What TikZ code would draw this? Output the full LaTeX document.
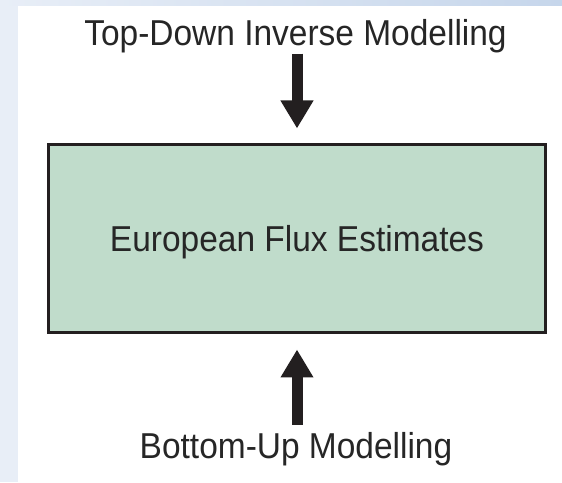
\documentclass[tikz,border=0pt]{standalone}
\usepackage{fontspec}
\setmainfont{Liberation Sans}[FakeStretch=0.93]
\usetikzlibrary{arrows.meta}
\definecolor{boxfill}{HTML}{C0DCCB}
\definecolor{boxline}{HTML}{231F20}
\definecolor{txt}{HTML}{262626}
\definecolor{stripL}{HTML}{E8EEF7}
\definecolor{stripR}{HTML}{C6D6EB}
\tikzset{
  x=1pt, y=1pt,
  label/.style={inner sep=0pt, text=txt, font=\fontsize{36}{40}\selectfont},
  fluxbox/.style={draw=boxline, line width=3pt, fill=boxfill, minimum width=497pt, minimum height=188pt, inner sep=0pt, text=txt, font=\fontsize{36}{40}\selectfont, text depth=0pt},
  bigarrow/.style={draw=boxline, line width=11pt, -{Triangle[length=28pt,width=31pt]}}
}
\begin{document}
\begin{tikzpicture}
\useasboundingbox (0,0) rectangle (562,482);
\fill[white] (0,0) rectangle (562,482);
\shade[left color=stripL, right color=stripR] (0,476) rectangle (562,482);
\fill[stripL] (0,0) rectangle (18,476);
\node[fluxbox] (box) at (297,243.5) {European Flux Estimates};
\node[label, anchor=base] (top) at (295.5,436) {Top-Down Inverse Modelling};
\node[label, anchor=base] (bot) at (296,24) {Bottom-Up Modelling};
\draw[bigarrow, shorten >=14.5pt] (top.south -| box.north) -- (box.north);
\draw[bigarrow, shorten <=7pt, shorten >=15.5pt] (bot.north -| box.south) -- (box.south);
\end{tikzpicture}
\end{document}
